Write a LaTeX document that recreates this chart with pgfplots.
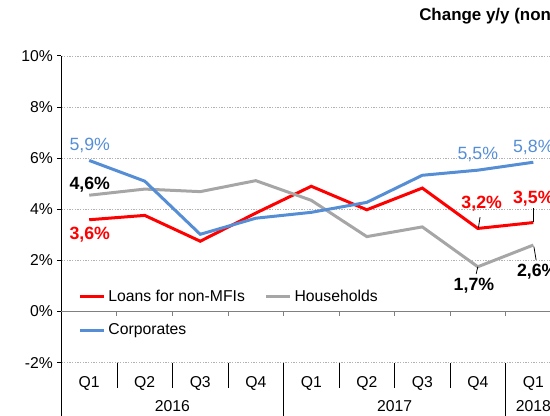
\documentclass[border=0pt]{standalone}
\usepackage{pgfplots}
\pgfplotsset{compat=1.18}
\usepackage{fontspec}
\setmainfont{Liberation Sans}

\definecolor{loanred}{RGB}{255,0,0}
\definecolor{hhgray}{RGB}{166,166,166}
\definecolor{corpblue}{RGB}{85,142,213}
\newcommand\txt{\fontsize{11.8}{14}\selectfont}
\newcommand\lbl{\fontsize{13.3}{15}\selectfont}

\begin{document}
\begin{tikzpicture}
% picture is 550x415 px at 0.75pt per px, right edge crops like the source
\useasboundingbox (0,0) rectangle (412.5pt,311.25pt);
\node[anchor=west, inner sep=0pt, font=\bfseries\fontsize{12.7}{14}\selectfont] at (314.25pt,299.25pt) {Change y/y (non-MFIs)};
\begin{axis}[
  at={(46.1pt,39.3pt)}, anchor=south west,
  scale only axis, width=366.4pt, height=230pt,
  xmin=-0.5, xmax=8.3, ymin=-2, ymax=10,
  clip=false,
  axis y line*=left, axis x line*=bottom,
  x axis line style={draw=none},
  y axis line style={black, line width=0.75pt},
  ytick={-2,0,...,10},
  yticklabel={\pgfmathprintnumber{\tick}\%},
  /pgf/number format/assume math mode=true,
  ymajorgrids,
  grid style={black!30, dash pattern=on 1pt off 1pt, line width=0.5pt},
  tick align=outside, major tick length=3pt,
  ytick style={black, line width=0.75pt},
  xtick={0,...,8}, xticklabels={Q1,Q2,Q3,Q4,Q1,Q2,Q3,Q4,Q1},
  xtick style={draw=none},
  xticklabel style={anchor=center, yshift=-13pt},
  tick label style={font=\txt},
  legend columns=2, legend cell align=left,
  legend style={draw=none, fill=none, at={(axis description cs:0.035,0.247)},
    anchor=north west, inner sep=0pt, font=\txt, row sep=11.5pt,
    /tikz/every even column/.append style={column sep=13pt}},
  legend image code/.code={\draw[#1, line width=2.25pt] (0pt,0pt) -- (18pt,0pt);},
]
% zero line with boundary ticks
\draw[black!50, line width=1pt] (-0.5,0) -- (8.3,0);
\pgfplotsinvokeforeach{0.5,1.5,...,7.5}{\draw[black!50, line width=0.75pt] (#1,0) -- (#1,-0.16);}
% category dividers
\draw[black, line width=0.75pt] (-0.5,-2) -- (-0.5,-4.3);
\pgfplotsinvokeforeach{0.5,1.5,2.5,4.5,5.5,6.5}{\draw[black, line width=0.6pt] (#1,-2) -- (#1,-3.0);}
\pgfplotsinvokeforeach{3.5,7.5}{\draw[black, line width=0.6pt] (#1,-2) -- (#1,-4.3);}
\node[font=\txt] at (1.5,-3.69) {2016};
\node[font=\txt] at (5.5,-3.69) {2017};
\node[font=\txt] at (8.0,-3.69) {2018};

\addplot[loanred, line width=2.25pt] coordinates {
(0,3.59) (1,3.76) (2,2.75) (3,3.85) (4,4.90) (5,3.98) (6,4.83) (7,3.25) (8,3.48)};
\addlegendentry{Loans for non-MFIs}
\addplot[hhgray, line width=2.25pt] coordinates {
(0,4.55) (1,4.79) (2,4.69) (3,5.12) (4,4.35) (5,2.93) (6,3.31) (7,1.75) (8,2.60)};
\addlegendentry{Households}
\addplot[corpblue, line width=2.25pt] coordinates {
(0,5.91) (1,5.10) (2,3.02) (3,3.65) (4,3.88) (5,4.27) (6,5.33) (7,5.53) (8,5.84)};
\addlegendentry{Corporates}

% data labels
\node[text=corpblue, font=\lbl] at (0.01,6.5) {5,9\%};
\node[text=corpblue, font=\lbl] at (7.0,6.15) {5,5\%};
\node[text=corpblue, font=\lbl] at (8.0,6.43) {5,8\%};
\node[font=\lbl\bfseries] at (0.01,4.96) {4,6\%};
\node[text=loanred, font=\lbl\bfseries] at (0.01,3.02) {3,6\%};
\node[text=loanred, font=\lbl\bfseries] at (7.07,4.21) {3,2\%};
\node[text=loanred, font=\lbl\bfseries] at (8.0,4.43) {3,5\%};
\node[font=\lbl\bfseries] at (6.93,1.01) {1,7\%};
\node[font=\lbl\bfseries] at (8.07,1.56) {2,6\%};
\draw[black, line width=0.6pt] (7.01,3.26) -- (7.04,3.69);
\draw[black, line width=0.6pt] (8.0,3.49) -- (8.0,4.04);
\draw[black, line width=0.6pt] (7.0,1.75) -- (6.97,1.47);
\draw[black, line width=0.6pt] (8.01,2.54) -- (8.05,2.02);
\end{axis}
\end{tikzpicture}
\end{document}
